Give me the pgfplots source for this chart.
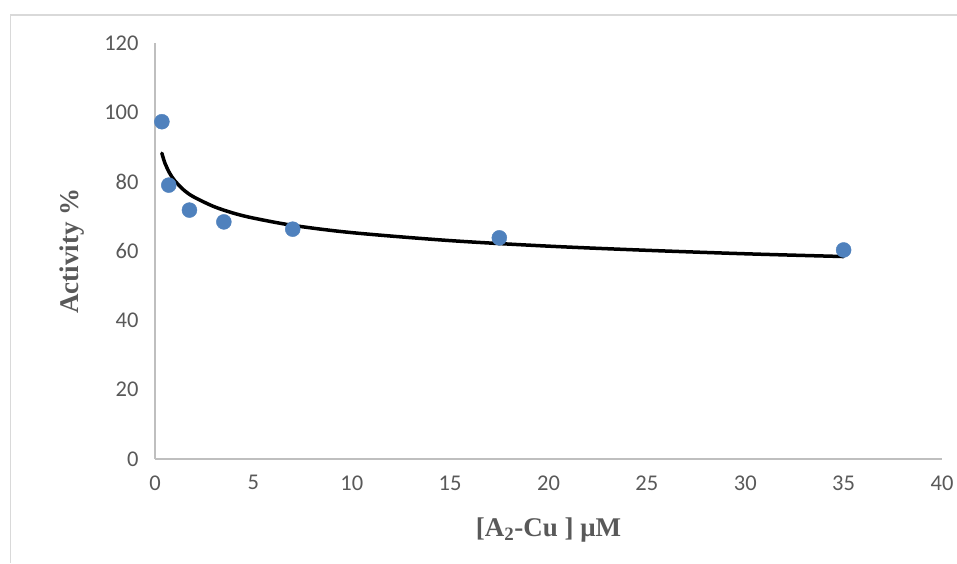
\documentclass[border=0pt]{standalone}
\usepackage{fontspec}
\setmainfont{Liberation Serif}
\newfontfamily\calfont{Carlito}
\usepackage{pgfplots}
\pgfplotsset{compat=1.18}
\definecolor{tickgray}{HTML}{595959}
\definecolor{axgray}{HTML}{BFBFBF}
\definecolor{framegray}{HTML}{D9D9D9}
\definecolor{ptblue}{HTML}{4F81BD}
\begin{document}
\begin{tikzpicture}[x=1pt,y=1pt]
\path[use as bounding box] (0,0) rectangle (957,563);
\draw[framegray, line width=1.5pt] (10.5,0) -- (10.5,548) -- (957,548);
\begin{axis}[
  at={(155pt,104pt)}, anchor=south west,
  scale only axis, width=787pt, height=416pt,
  xmin=0, xmax=40, ymin=0, ymax=120,
  xtick={0,5,...,40}, ytick={0,20,...,120},
  axis lines=left,
  axis line style={axgray, line width=1.5pt, -},
  major tick length=0pt,
  tick style={draw=none},
  /pgf/number format/assume math mode=true,
  ticklabel style={font=\calfont\fontsize{22.5}{26}\selectfont, text=tickgray},
  xticklabel style={yshift=-13pt},
  yticklabel style={xshift=-13pt},
  xlabel={\fontsize{27}{30}\selectfont\bfseries [A\textsubscript{2}-Cu ] μM},
  ylabel={\fontsize{27}{30}\selectfont\bfseries Activity \%},
  label style={text=tickgray},
  xlabel style={at={(axis description cs:0.5,-0.171)}, anchor=center},
  ylabel style={at={(axis description cs:-0.106,0.5)}, anchor=center},
  clip=false,
]
\addplot[black, line width=3.5pt, smooth, line cap=round] coordinates {
  (0.35,88.2) (0.4,87.2) (0.5,85.4) (0.6,84.1) (0.75,82.4) (1,80.3) (1.5,77.4)
  (2,75.5) (3,72.8) (4,70.9) (5,69.5) (7,67.4) (10,65.3) (15,63.0)
  (20,61.4) (25,60.2) (30,59.2) (35,58.4)
};
\addplot[only marks, mark=*, mark size=7.5pt, mark options={fill=ptblue, draw=ptblue}] coordinates {
  (0.35,97.3) (0.7,79.0) (1.75,71.8) (3.5,68.4) (7,66.3) (17.5,63.8) (35,60.3)
};
\end{axis}
\end{tikzpicture}
\end{document}
